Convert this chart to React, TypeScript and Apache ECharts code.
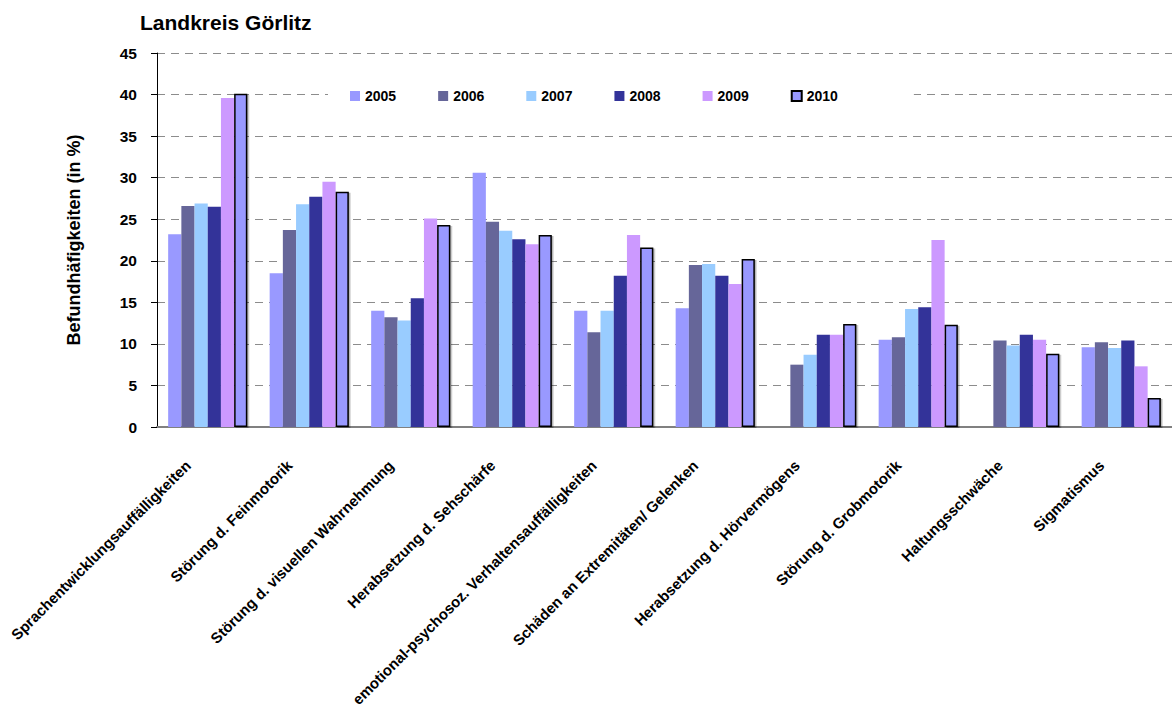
import React, { useEffect, useRef } from "react";
import * as echarts from "echarts";

const FONT = 'Arial, "Liberation Sans", Helvetica, sans-serif';

const categories = [
  "Sprachentwicklungsauffälligkeiten",
  "Störung d. Feinmotorik",
  "Störung d. visuellen Wahrnehmung",
  "Herabsetzung d. Sehschärfe",
  "emotional-psychosoz. Verhaltensauffälligkeiten",
  "Schäden an Extremitäten/ Gelenken",
  "Herabsetzung d. Hörvermögens",
  "Störung d. Grobmotorik",
  "Haltungsschwäche",
  "Sigmatismus",
];

const years = ["2005", "2006", "2007", "2008", "2009", "2010"];

// Befundhäufigkeiten in % je Jahr (null = kein Wert)
const values2005 = [23.2, 18.5, 14.0, 30.6, 14.0, 14.3, null, 10.5, null, 9.6];
const values2006 = [26.6, 23.7, 13.2, 24.7, 11.4, 19.5, 7.5, 10.8, 10.4, 10.2];
const values2007 = [26.9, 26.8, 12.8, 23.6, 14.0, 19.6, 8.7, 14.2, 9.8, 9.5];
const values2008 = [26.5, 27.7, 15.5, 22.6, 18.2, 18.2, 11.1, 14.4, 11.1, 10.4];
const values2009 = [39.6, 29.5, 25.1, 22.0, 23.1, 17.2, 11.1, 22.5, 10.5, 7.3];
const values2010 = [40.1, 28.3, 24.3, 23.1, 21.6, 20.2, 12.4, 12.3, 8.8, 3.5];

const seriesValues = [values2005, values2006, values2007, values2008, values2009, values2010];
const colors = ["#9999FF", "#666699", "#99CCFF", "#333399", "#CC99FF", "#9999FF"];

const yTicks = { min: 0, max: 45, interval: 5 };

export default function App() {
  const ref = useRef<HTMLDivElement>(null);

  useEffect(() => {
    if (!ref.current) return;
    const chart = echarts.init(ref.current, undefined, { renderer: "svg" });

    const series = years.map((y, i) => {
      const last = i === years.length - 1;
      return {
        name: y,
        type: "bar",
        data: seriesValues[i],
        barGap: "0%",
        barCategoryGap: "22%",
        itemStyle: last
          ? {
              color: colors[i],
              borderColor: "#000000",
              borderWidth: 1.5,
              shadowColor: "rgba(0,0,0,0.3)",
              shadowOffsetX: 1.5,
              shadowOffsetY: 1,
              shadowBlur: 0,
            }
          : { color: colors[i] },
      };
    });

    chart.setOption({
      animation: false,
      backgroundColor: "#ffffff",
      title: {
        text: "Landkreis Görlitz",
        left: 135,
        top: 7,
        textStyle: { fontFamily: FONT, fontSize: 21, fontWeight: "bold", color: "#000" },
      },
      legend: {
        data: years,
        left: 328,
        top: 84,
        padding: [5, 76, 5, 22],
        backgroundColor: "#ffffff",
        itemWidth: 10,
        itemHeight: 10,
        itemGap: 42,
        icon: "rect",
        textStyle: { fontFamily: FONT, fontSize: 14, fontWeight: "bold", color: "#000" },
      },
      grid: { left: 157, top: 53, width: 1017, height: 374, containLabel: false },
      xAxis: {
        type: "category",
        data: categories,
        axisLine: { lineStyle: { color: "#808080", width: 2 } },
        axisTick: { show: false },
        axisLabel: {
          interval: 0,
          rotate: 45,
          margin: 16,
          padding: [0, 28, 0, 0],
          fontFamily: FONT,
          fontSize: 15,
          fontWeight: "bold",
          color: "#000",
        },
      },
      yAxis: {
        type: "value",
        min: yTicks.min,
        max: yTicks.max,
        interval: yTicks.interval,
        name: "Befundhäfigkeiten (in %)",
        nameLocation: "middle",
        nameGap: 74,
        nameTextStyle: { fontFamily: FONT, fontSize: 18, fontWeight: "bold", color: "#000" },
        axisLine: { show: true, lineStyle: { color: "#000", width: 1 } },
        axisTick: { show: true, length: 6, lineStyle: { color: "#000" } },
        axisLabel: {
          margin: 20,
          fontFamily: FONT,
          fontSize: 15.5,
          fontWeight: "bold",
          color: "#000",
        },
        splitLine: { show: true, lineStyle: { color: "#8c8c8c", width: 1, type: [8, 6] } },
      },
      series,
    });

    return () => chart.dispose();
  }, []);

  return (
    <div
      ref={ref}
      style={{ position: "absolute", left: 0, top: 0, width: 1172, height: 716 }}
    />
  );
}
